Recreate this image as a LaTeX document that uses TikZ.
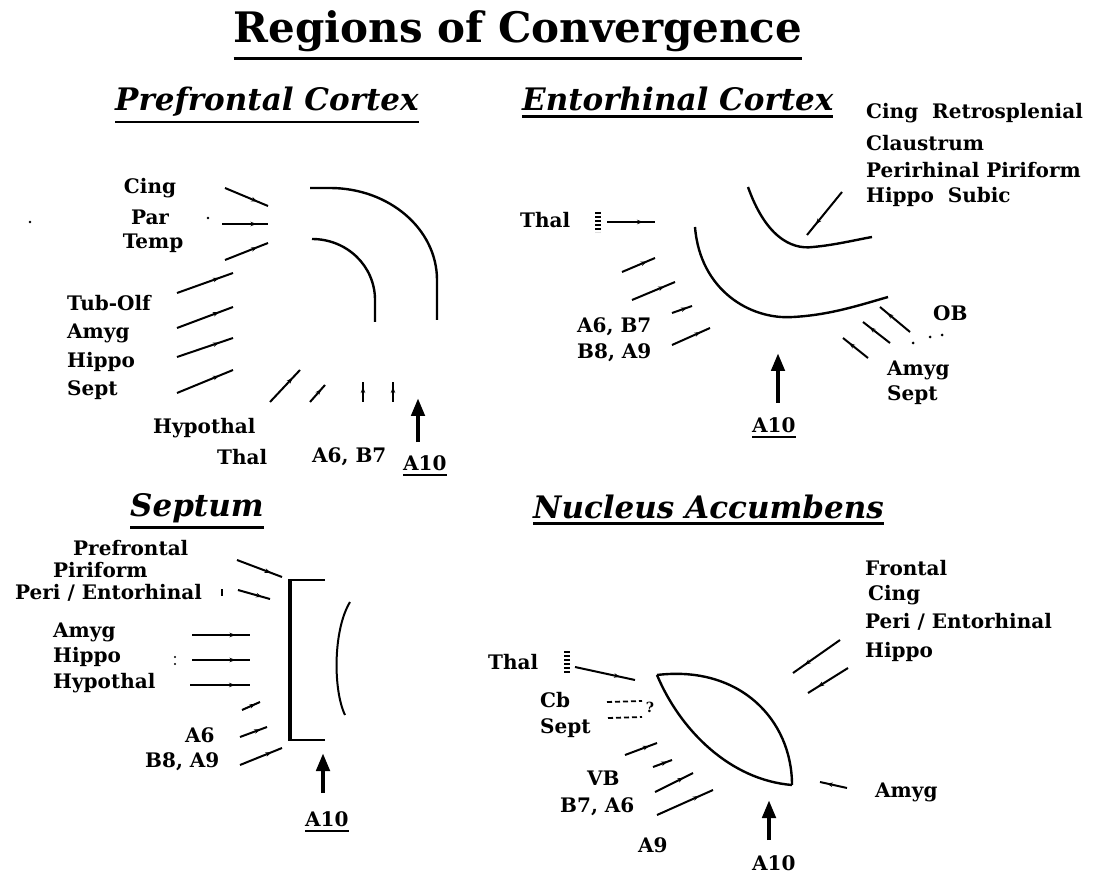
\documentclass[tikz,border=0pt]{standalone}
\usepackage{fontspec}
\setmainfont{DejaVu Serif}
\usetikzlibrary{arrows.meta,decorations.markings}
\newcommand{\undl}[3]{\setbox0=\hbox{#3}\vtop{\copy0\kern#1\hrule height #2 width \wd0}}
\tikzset{
  lbl/.style     = {font=\fontsize{20}{22}\selectfont\bfseries, inner sep=0pt, anchor=west},
  hdr/.style     = {font=\fontsize{31}{33}\selectfont\bfseries\itshape, inner sep=0pt, anchor=base west},
  proj/.style    = {line width=2pt, postaction={decorate},
                    decoration={markings, mark=at position 0.75 with {\arrow{Stealth[length=6pt,width=4.5pt]}}}},
  wall/.style    = {line width=2.4pt},
  aten/.style    = {line width=4.4pt, -{Triangle[length=18pt,width=13pt]}},
  barstack/.style= {line width=6pt, dash pattern=on 1.6pt off 2.4pt},
  dotted/.style  = {line width=1.8pt, dash pattern=on 5pt off 3pt},
}
\begin{document}
\begin{tikzpicture}[x=1pt, y=-1pt]
\useasboundingbox (0,0) rectangle (1095,874);
\fill[white] (0,0) rectangle (1095,874);

% ===== TITLE =====
\node[font=\fontsize{42}{44}\selectfont\bfseries, inner sep=0pt, anchor=base] (title) at (518,43)
     {\undl{5pt}{3pt}{Regions of Convergence}};

% ===== PREFRONTAL CORTEX =====
\node[hdr] (pfc) at (115,111) {\undl{4pt}{2.6pt}{Prefrontal Cortex}};
\node[lbl, anchor=center] (pfcing) at (150,188) {Cing};
\node[lbl, anchor=center] (pfpar)  at (150,217) {Par};
\node[lbl, anchor=center] (pftemp) at (153,243) {Temp};
\node[lbl] (pftub)  at (67,303) {Tub-Olf};
\node[lbl] (pfamyg) at (67,333) {Amyg};
\node[lbl] (pfhip)  at (67,362) {Hippo};
\node[lbl] (pfsept) at (67,390) {Sept};
\node[lbl] (pfhyp)  at (153,428) {Hypothal};
\node[lbl] (pfthal) at (217,457) {Thal};
\node[lbl] (pfa6)   at (312,457) {A6, B7};
\node[lbl] (pfa10)  at (403,466) {\undl{3pt}{1.6pt}{A10}};

\draw[wall] (310,188) -- (330,188) .. controls (389,188) and (437,229) .. (437,280) -- (437,320);
\draw[wall] (312,239) .. controls (347,239) and (375,266) .. (375,300) -- (375,322);
\foreach \xa/\ya/\xb/\yb in {225/188/268/206, 222/224/268/224, 225/260/268/243,
    177/293/233/273, 177/328/233/307, 177/357/233/338, 177/393/233/370,
    270/402/300/370, 310/402/325/385, 363/402/363/382, 393/402/393/382}
  {\draw[proj] (\xa,\ya) -- (\xb,\yb);}
\draw[aten] (418,442) -- (418,398);
\fill (208,218) circle[radius=1.4];
\fill (30,222) circle[radius=1.4];

% ===== ENTORHINAL CORTEX =====
\node[hdr] (ec) at (522,111) {\undl{4pt}{2.6pt}{Entorhinal Cortex}};
\node[lbl] (eccing) at (866,113) {Cing\ \ Retrosplenial};
\node[lbl] (eccla)  at (866,143) {Claustrum};
\node[lbl] (ecper)  at (866,170) {Perirhinal\ Piriform};
\node[lbl] (echip)  at (866,197) {Hippo\ \ Subic};
\node[lbl] (ecthal) at (520,220) {Thal};
\node[lbl] (eca6)   at (577,327) {A6, B7};
\node[lbl] (ecb8)   at (577,353) {B8, A9};
\node[lbl] (ecob)   at (933,313) {OB};
\node[lbl] (ecamyg) at (887,370) {Amyg};
\node[lbl] (ecsept) at (887,395) {Sept};
\node[lbl] (eca10)  at (752,428) {\undl{3pt}{1.6pt}{A10}};

\draw[wall] (748,187) .. controls (765,235) and (790,250) .. (813,247)
                      .. controls (835,245) and (855,240) .. (872,237);
\draw[wall] (695,227) .. controls (700,290) and (750,320) .. (793,317)
                      .. controls (830,315) and (860,305) .. (888,297);
\draw[barstack] (598,212) -- (598,232);
\foreach \xa/\ya/\xb/\yb in {842/192/807/235, 607/222/655/222,
    622/272/655/258, 632/300/675/282, 672/313/692/306, 672/345/710/328,
    910/332/880/307, 890/343/863/322, 868/358/843/338}
  {\draw[proj] (\xa,\ya) -- (\xb,\yb);}
\foreach \xa/\ya in {913/343, 930/337, 942/335}
  {\fill (\xa,\ya) circle[radius=1.5];}
\draw[aten] (778,403) -- (778,353);

% ===== SEPTUM =====
\node[hdr] (sep) at (130,516) {\undl{4pt}{2.6pt}{Septum}};
\node[lbl] (spre)  at (73,548)  {Prefrontal};
\node[lbl] (spir)  at (53,570)  {Piriform};
\node[lbl] (sper)  at (15,593)  {Peri / Entorhinal};
\node[lbl] (samyg) at (53,632)  {Amyg};
\node[lbl] (ship)  at (53,657)  {Hippo};
\node[lbl] (shyp)  at (53,683)  {Hypothal};
\node[lbl] (sa6)   at (185,735) {A6};
\node[lbl] (sb8)   at (145,762) {B8, A9};
\node[lbl] (sa10)  at (305,822) {\undl{3pt}{1.6pt}{A10}};

\draw[line width=2pt] (325,580) -- (290,580);
\draw[line width=2pt] (325,740) -- (290,740);
\draw[line width=3.6pt] (290,579) -- (290,741);
\draw[line width=2pt] (350,602) .. controls (333,630) and (333,690) .. (345,715);
\foreach \xa/\ya/\xb/\yb in {237/560/282/577, 238/590/270/599,
    192/635/250/635, 192/660/250/660, 190/685/250/685,
    242/710/260/702, 240/737/267/727, 240/765/282/748}
  {\draw[proj] (\xa,\ya) -- (\xb,\yb);}
\draw[line width=1.4pt] (222,589) -- (222,596);
\fill (175,657) circle[radius=1.2] (175,664) circle[radius=1.2];
\draw[aten] (323,793) -- (323,753);

% ===== NUCLEUS ACCUMBENS =====
\node[hdr] (nac) at (533,518) {\undl{4pt}{2.6pt}{Nucleus Accumbens}};
\node[lbl] (nfro)  at (865,568) {Frontal};
\node[lbl] (ncing) at (868,595) {Cing};
\node[lbl] (nper)  at (865,622) {Peri / Entorhinal};
\node[lbl] (nhip)  at (865,652) {Hippo};
\node[lbl] (nthal) at (488,662) {Thal};
\node[lbl] (ncb)   at (540,700) {Cb};
\node[lbl] (nsept) at (540,728) {Sept};
\node[lbl] (nvb)   at (587,778) {VB};
\node[lbl] (nb7)   at (560,807) {B7, A6};
\node[lbl] (na9)   at (638,845) {A9};
\node[lbl] (namyg) at (875,792) {Amyg};
\node[lbl] (na10)  at (752,863) {A10};
\node[font=\fontsize{14}{14}\selectfont\bfseries, inner sep=0pt] (nq) at (650,707) {?};

\draw[wall] (657,675) .. controls (740,665) and (792,720) .. (792,785);
\draw[wall] (657,675) .. controls (680,730) and (730,780) .. (792,785);
\draw[barstack] (567,651) -- (567,674);
\draw[dotted] (607,702) -- (642,701);
\draw[dotted] (608,718) -- (642,717);
\foreach \xa/\ya/\xb/\yb in {575/667/635/680, 840/640/793/673, 848/668/808/693,
    625/755/657/743, 653/767/672/760, 655/792/693/773, 657/815/713/790,
    847/788/820/782}
  {\draw[proj] (\xa,\ya) -- (\xb,\yb);}
\draw[aten] (769,840) -- (769,800);
\end{tikzpicture}
\end{document}
